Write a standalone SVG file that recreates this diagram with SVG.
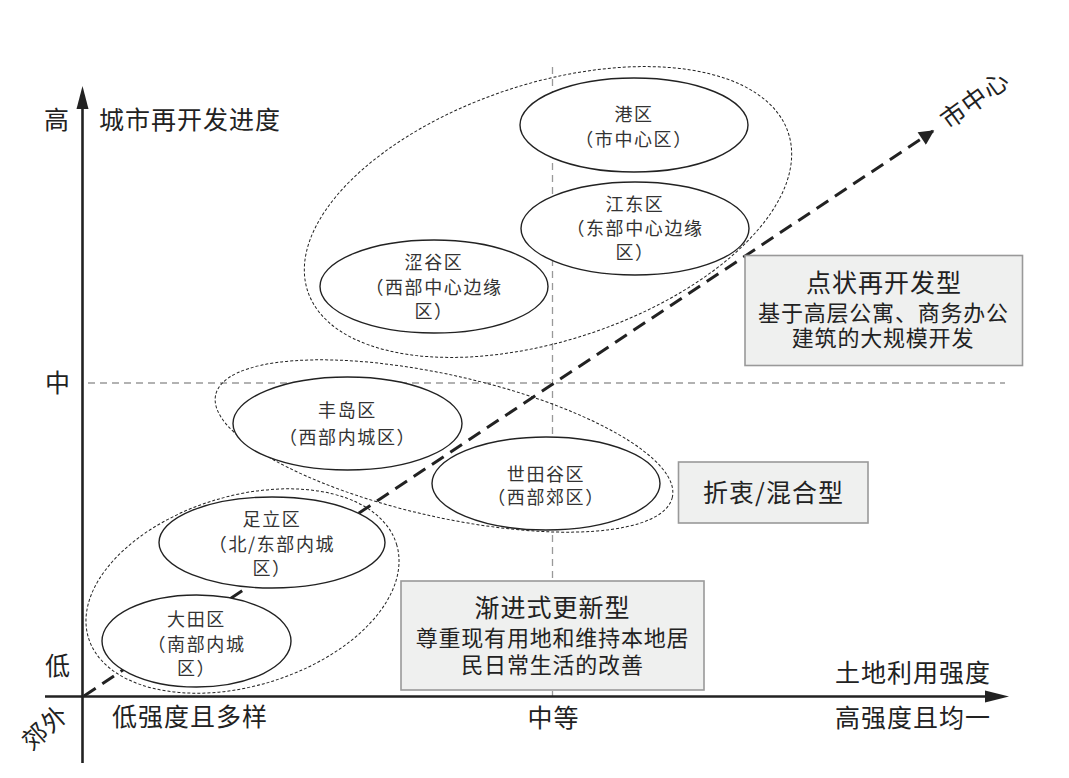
<svg xmlns="http://www.w3.org/2000/svg" width="1069" height="778" viewBox="0 0 1069 778">
  <defs>
    <style>
      .ax { font-family: "Noto Sans CJK SC", "Noto Sans", sans-serif; font-size: 25px; fill: #222; letter-spacing: 1px; }
      .lbl { font-family: "Noto Sans CJK SC", "Noto Sans", sans-serif; font-size: 18px; fill: #333; letter-spacing: 1.6px; text-anchor: middle; }
      .bt { font-family: "Noto Sans CJK SC", "Noto Sans", sans-serif; font-size: 25px; fill: #222; letter-spacing: 1px; text-anchor: middle; }
      .bb { font-family: "Noto Sans CJK SC", "Noto Sans", sans-serif; font-size: 22px; fill: #222; letter-spacing: 0.8px; text-anchor: middle; }
      .node { fill: #fff; stroke: #222; stroke-width: 1.4; }
      .grp { fill: none; stroke: #222; stroke-width: 1; stroke-dasharray: 3 2; }
      .box { fill: #eff0ef; stroke: #999; stroke-width: 1.6; }
      .guide { fill: none; stroke: #999; stroke-width: 1.3; stroke-dasharray: 7 5; }
      .axis { fill: none; stroke: #222; stroke-width: 2.6; }
    </style>
    <marker id="diagArrow" viewBox="0 0 10 10" refX="9" refY="5" markerWidth="5.5" markerHeight="5" markerUnits="strokeWidth" orient="auto">
      <path d="M0,0 L10,5 L0,10 z" fill="#222"/>
    </marker>
  </defs>

  <rect width="1069" height="778" fill="#fff"/>

  <!-- guides -->
  <g id="guides">
    <line class="guide" x1="88" y1="383" x2="1005" y2="383"/>
    <line class="guide" x1="552.5" y1="67" x2="552.5" y2="696"/>
  </g>

  <!-- connectors -->
  <g id="connectors">
    <line x1="84" y1="696" x2="933" y2="131" stroke="#222" stroke-width="3" stroke-dasharray="14 8" marker-end="url(#diagArrow)"/>
  </g>

  <!-- group outlines -->
  <g id="groups">
    <ellipse id="group-point" class="grp" cx="548" cy="212" rx="253" ry="128.5" transform="rotate(-18.2 548 212)"/>
    <ellipse id="group-mixed" class="grp" cx="444" cy="446" rx="234" ry="71" transform="rotate(12.65 444 446)"/>
    <ellipse id="group-gradual" class="grp" cx="242.5" cy="591" rx="161" ry="95" transform="rotate(-16.85 242.5 591)"/>
  </g>

  <!-- nodes -->
  <g id="node-minato">
    <ellipse class="node" cx="634" cy="125" rx="114" ry="47"/>
    <text class="lbl" x="634" y="121">港区</text>
    <text class="lbl" x="634" y="146">（市中心区）</text>
  </g>
  <g id="node-koto">
    <ellipse class="node" cx="635" cy="228.5" rx="114" ry="46.5"/>
    <text class="lbl" x="635" y="211">江东区</text>
    <text class="lbl" x="635" y="235">（东部中心边缘</text>
    <text class="lbl" x="635" y="259">区）</text>
  </g>
  <g id="node-shibuya">
    <ellipse class="node" cx="434" cy="286.5" rx="114" ry="46.5"/>
    <text class="lbl" x="434" y="269">涩谷区</text>
    <text class="lbl" x="434" y="294">（西部中心边缘</text>
    <text class="lbl" x="434" y="318">区）</text>
  </g>
  <g id="node-toshima">
    <ellipse class="node" cx="347.5" cy="423.5" rx="114.5" ry="46.5"/>
    <text class="lbl" x="347.5" y="417">丰岛区</text>
    <text class="lbl" x="347.5" y="443.5">（西部内城区）</text>
  </g>
  <g id="node-setagaya">
    <ellipse class="node" cx="546" cy="483.5" rx="114" ry="46.5"/>
    <text class="lbl" x="546" y="481">世田谷区</text>
    <text class="lbl" x="546" y="504">（西部郊区）</text>
  </g>
  <g id="node-adachi">
    <ellipse class="node" cx="272" cy="542.5" rx="113" ry="45.5"/>
    <text class="lbl" x="272" y="526">足立区</text>
    <text class="lbl" x="272" y="551">（北/东部内城</text>
    <text class="lbl" x="272" y="575">区）</text>
  </g>
  <g id="node-ota">
    <ellipse class="node" cx="196.5" cy="641" rx="94.5" ry="46"/>
    <text class="lbl" x="196.5" y="626">大田区</text>
    <text class="lbl" x="196.5" y="651">（南部内城</text>
    <text class="lbl" x="196.5" y="675">区）</text>
  </g>

  <!-- type boxes -->
  <g id="box-point">
    <rect class="box" x="745" y="255.5" width="277.5" height="110"/>
    <text class="bt" x="884" y="292">点状再开发型</text>
    <text class="bb" x="883.5" y="320.5">基于高层公寓、商务办公</text>
    <text class="bb" x="883" y="345.5">建筑的大规模开发</text>
  </g>
  <g id="box-mixed">
    <rect class="box" x="678.5" y="462" width="189.5" height="61"/>
    <text class="bt" x="773.5" y="502">折衷/混合型</text>
  </g>
  <g id="box-gradual">
    <rect class="box" x="401" y="581" width="303" height="109"/>
    <text class="bt" x="552.5" y="616.5">渐进式更新型</text>
    <text class="bb" x="552.5" y="645.5">尊重现有用地和维持本地居</text>
    <text class="bb" x="552.5" y="672.5">民日常生活的改善</text>
  </g>

  <!-- axes -->
  <g id="axes">
    <line class="axis" x1="82.5" y1="763" x2="82.5" y2="106"/>
    <path d="M82.5,86 L88.5,109 L76.5,109 z" fill="#222"/>
    <line class="axis" x1="45" y1="696.5" x2="988" y2="696.5"/>
    <path d="M1009,696.5 L985,702.5 L985,690.5 z" fill="#222"/>
  </g>

  <!-- axis labels -->
  <g id="axis-labels">
    <text class="ax" x="57" y="129" text-anchor="middle">高</text>
    <text class="ax" x="99" y="129">城市再开发进度</text>
    <text class="ax" x="58" y="391.5" text-anchor="middle">中</text>
    <text class="ax" x="58" y="675" text-anchor="middle">低</text>
    <text class="ax" x="112" y="725.5">低强度且多样</text>
    <text class="ax" x="553.5" y="726.5" text-anchor="middle">中等</text>
    <text class="ax" x="835" y="726.5">高强度且均一</text>
    <text class="ax" x="835" y="682">土地利用强度</text>
    <text class="ax" x="0" y="0" text-anchor="middle" font-size="23" transform="translate(51 734) rotate(-42)">郊外</text>
    <text class="ax" x="0" y="0" text-anchor="middle" font-size="23" transform="translate(980 107) rotate(-36)">市中心</text>
  </g>
</svg>
